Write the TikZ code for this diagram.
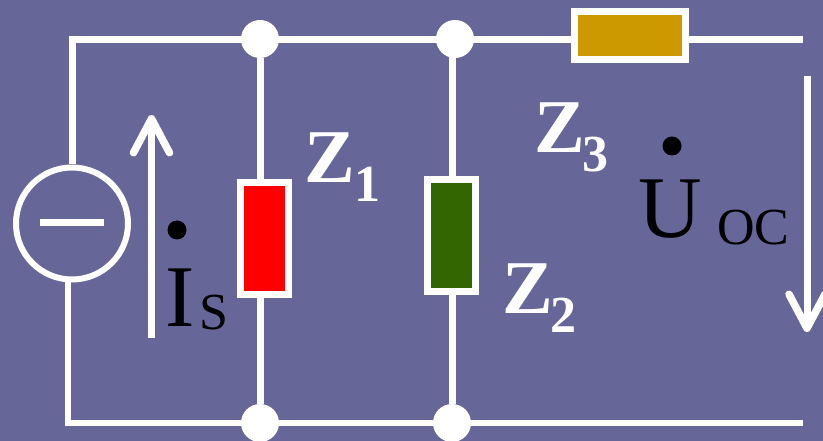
\documentclass[tikz,border=0pt]{standalone}
\usepackage{fontspec}
\setmainfont{Liberation Serif}
\usetikzlibrary{arrows.meta}
\definecolor{slate}{HTML}{666699}
\definecolor{zgreen}{HTML}{336600}
\definecolor{zgold}{HTML}{CC9900}
\tikzset{
  wire/.style={white, line width=7pt},
  junction/.style={circle, fill=white, inner sep=0, minimum size=38pt},
  zbox/.style={draw=white, line width=7pt, inner sep=0},
  phasor/.style={circle, fill=black, inner sep=0, minimum size=19pt},
  bigtext/.style={anchor=base west, inner sep=0, font=\fontsize{88}{88}\selectfont},
  subtext/.style={anchor=base west, inner sep=0, font=\fontsize{52}{52}\selectfont},
  ztext/.style={anchor=base west, inner sep=0, white, font=\fontsize{76}{76}\selectfont\bfseries},
  zsub/.style={anchor=base west, inner sep=0, white, font=\fontsize{52}{52}\selectfont\bfseries},
  refarrow/.style={white, line width=7pt, -{Straight Barb[round, length=34pt, width=36pt, line width=7.5pt]}}
}
\begin{document}
\begin{tikzpicture}[x=1pt, y=-1pt]
    \fill[slate] (0,0) rectangle (823,441);
    \clip (0,0) rectangle (823,441);
    % junctions and elements
    \node[junction] (j1) at (260,39) {};
    \node[junction] (j2) at (455,39) {};
    \node[junction] (j3) at (260,423) {};
    \node[junction] (j4) at (452,423) {};
    \node[circle, draw=white, line width=6pt, inner sep=0, minimum size=112pt] (src) at (72,223.5) {};
    \node[zbox, fill=red, minimum width=48.5pt, minimum height=112pt] (z1) at (264.5,238.5) {};
    \node[zbox, fill=zgreen, minimum width=48pt, minimum height=112pt] (z2) at (451.5,235.5) {};
    \node[zbox, fill=zgold, minimum width=111pt, minimum height=48pt] (z3) at (630,35.5) {};
    \coordinate (tl) at (68.5,39.5);
    \coordinate (tt) at (72,36);
    \coordinate (bl) at (68,423);
    \coordinate (sb) at (68,281);
    \coordinate (tr) at (803,39.5);
    \coordinate (br) at (803,423);
    \coordinate (ml) at (40,223);
    \coordinate (mr) at (104,223);
    % wires
    \draw[wire] (tl) -- (j1 |- tl) -- (j2 |- tl) -- (z3.west |- tl);
    \draw[wire] (z3.east |- tr) -- (tr);
    \draw[wire] (tt) -- (src);
    \draw[wire, line width=6pt] (sb) -- (bl) -- (j3) -- (j4) -- (br);
    \draw[wire] (j1) -- (j1 |- z1.north);
    \draw[wire] (j1 |- z1.south) -- (j3);
    \draw[wire] (j4 |- j2) -- (j4 |- z2.north);
    \draw[wire] (j4 |- z2.south) -- (j4);
    \draw[wire] (ml) -- (mr);
    % reference arrows
    \coordinate (isb) at (151.5,338);
    \coordinate (ist) at (151.5,115);
    \coordinate (uot) at (807,76);
    \coordinate (uob) at (807,332);
    \draw[refarrow] (isb) -- (ist);
    \draw[refarrow] (uot) -- (uob);
    % labels
    \node[ztext] (lz1) at (304,183) {Z};
    \node[zsub] (ls1) at (354,202) {1};
    \node[ztext] (lz2) at (502,313) {Z};
    \node[zsub] (ls2) at (550,332) {2};
    \node[ztext] (lz3) at (534,153) {Z};
    \node[zsub] (ls3) at (582,172) {3};
    \node[phasor] (dis) at (177,230) {};
    \node[bigtext] (lis) at (165,326) {I};
    \node[subtext] (lss) at (199,330) {S};
    \node[phasor] (duo) at (672,146) {};
    \node[bigtext] (luo) at (638,238) {U};
    \node[subtext] (loc) at (717,244) {OC};
\end{tikzpicture}
\end{document}
